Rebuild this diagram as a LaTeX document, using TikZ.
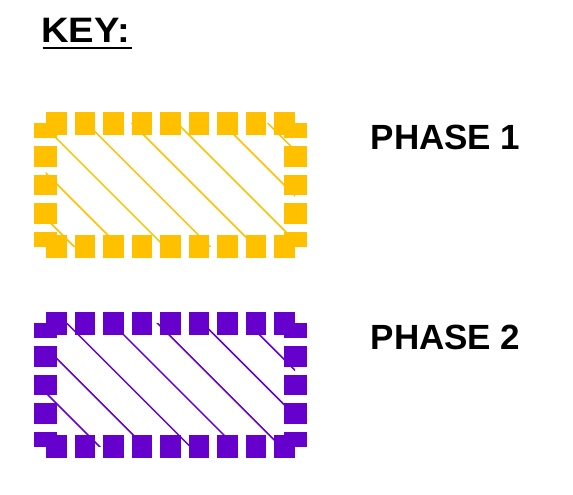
\documentclass[tikz,border=0pt]{standalone}
\usepackage{fontspec}
\setmainfont{Liberation Sans}
\definecolor{phaseone}{HTML}{FFC000}
\definecolor{phasetwo}{HTML}{6600CC}
\begin{document}
\begin{tikzpicture}[x=1pt,y=-1pt,
  keytext/.style={font=\fontsize{35}{40}\selectfont\bfseries, anchor=base west, inner sep=0pt, text=black},
  hatchline/.style={line width=1.5pt}]
\useasboundingbox (0,0) rectangle (573,495);
% title
\node[keytext] (key) at (41.2,42.3) {\scalebox{1.09}[1.01]{KEY:}};
\draw[line width=2.5pt] (42.7,48) coordinate (ul1) -- (131.7,48) coordinate (ul2);
% boxes
\foreach \col/\dy/\cz in {phaseone/0/-172.5, phasetwo/200/-147}{
  \begin{scope}
    \clip (45.5,123+\dy) rectangle (295,246.5+\dy);
    \foreach \k in {0,...,8}
      \draw[hatchline,draw=\col] ({\cz+45.3*\k+100},{100+\dy}) -- ++(170,170);
  \end{scope}
  \foreach \k in {-4,...,4}{
    \fill[\col] ({170.25+28.5*\k-10.25},{111.5+\dy}) rectangle +(20.5,23);
    \fill[\col] ({170.25+28.5*\k-10.25},{235+\dy}) rectangle +(20.5,23);
  }
  \foreach \k in {-2,...,2}{
    \pgfmathsetmacro\ya{max(184.75+28.5*\k-10.25,123)}
    \pgfmathsetmacro\yb{min(184.75+28.5*\k+10.25,246.5)}
    \fill[\col] (34,{\ya+\dy}) rectangle (57,{\yb+\dy});
    \fill[\col] (283.5,{\ya+\dy}) rectangle (306.5,{\yb+\dy});
  }
}
\node[keytext] (p1) at (370.5,149.3) {PHASE 1};
\node[keytext] (p2) at (370.5,349.3) {PHASE 2};
\end{tikzpicture}
\end{document}
